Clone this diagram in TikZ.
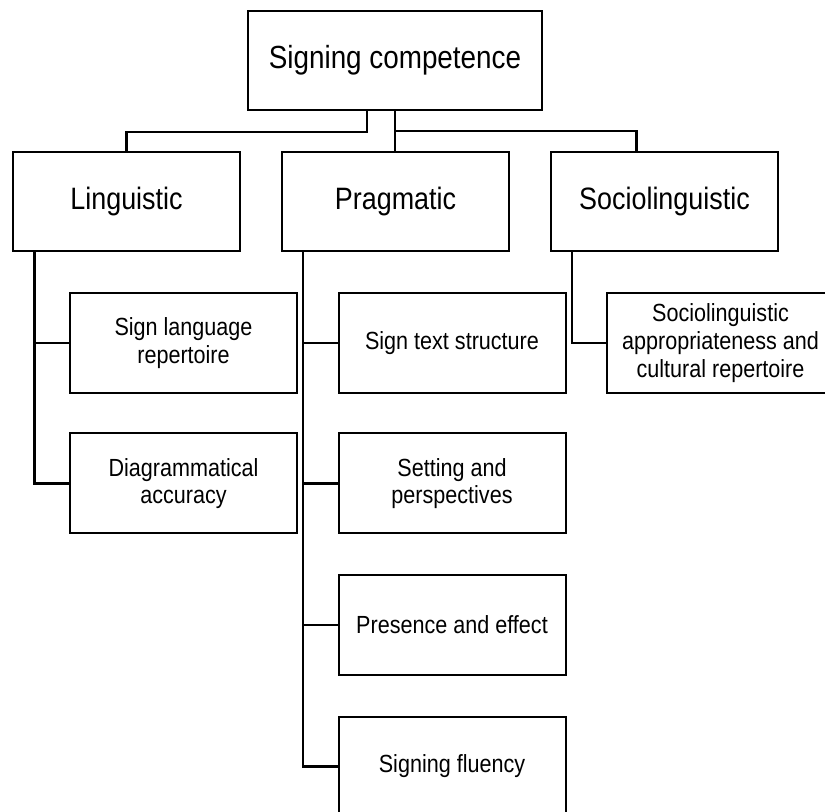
\documentclass[tikz,border=0pt]{standalone}
\usepackage{fontspec}
\setmainfont{Liberation Sans}[FakeStretch=0.87]

\tikzset{
    topbox/.style={draw, line width=1.5pt, inner sep=0pt, minimum width=220.5pt, minimum height=74.25pt, font=\fontsize{24}{28}\selectfont},
    areabox/.style={draw, line width=1.5pt, inner sep=0pt, minimum width=170.25pt, minimum height=74.25pt, font=\fontsize{23.2}{27}\selectfont},
    subbox/.style={draw, line width=1.5pt, inner sep=0pt, minimum width=170.25pt, minimum height=75pt, align=center, font=\fontsize{18.6}{20.8}\selectfont},
    link/.style={line width=2.1pt}
}

\begin{document}
\begin{tikzpicture}[x=0.75pt, y=-0.75pt]
                            \useasboundingbox (0, 0) rectangle (825, 812);

                            \node (comp)[topbox] at (395, 60.5) {Signing competence};

                            \node (ling)[areabox] at (126.5, 201.5) {Linguistic};
                            \node (prag)[areabox] at (395.5, 201.5) {Pragmatic};
                            \node (socio)[areabox] at (664.5, 201.5) {Sociolinguistic};

                            \node (rep)[subbox] at (183.5, 343) {Sign language\\repertoire};
                            \node (acc)[subbox] at (183.5, 483.5) {Diagrammatical\\accuracy};

                            \node (struct)[subbox] at (452, 343) {Sign text structure};
                            \node (persp)[subbox] at (452, 483.5) {Setting and\\perspectives};
                            \node (pres)[subbox] at (452, 625) {Presence and effect};
                            \node (flu)[subbox] at (452, 766.5) {Signing fluency};

                            \node (approp)[subbox] at (720.5, 343) {Sociolinguistic\\appropriateness and\\cultural repertoire};

                            \coordinate (hub) at (395, 131);

                            \draw[link] ([xshift=-21pt]comp.south) -- ++(0, 21) -| (ling.north);
                            \draw[link] (comp.south) -- (comp.south |- prag.north);
                            \draw[link] (hub) -| ([xshift=-21pt]socio.north);

                            \draw[link] ([xshift=17pt]ling.south west) |- (rep.west);
                            \draw[link] ([xshift=17pt]ling.south west) |- (acc.west);

                            \draw[link] ([xshift=16.5pt]prag.south west) |- (struct.west);
                            \draw[link] ([xshift=16.5pt]prag.south west) |- (persp.west);
                            \draw[link] ([xshift=16.5pt]prag.south west) |- (pres.west);
                            \draw[link] ([xshift=16.5pt]prag.south west) |- (flu.west);

                            \draw[link] ([xshift=16.5pt]socio.south west) |- (approp.west);

                        \end{tikzpicture}
\end{document}
